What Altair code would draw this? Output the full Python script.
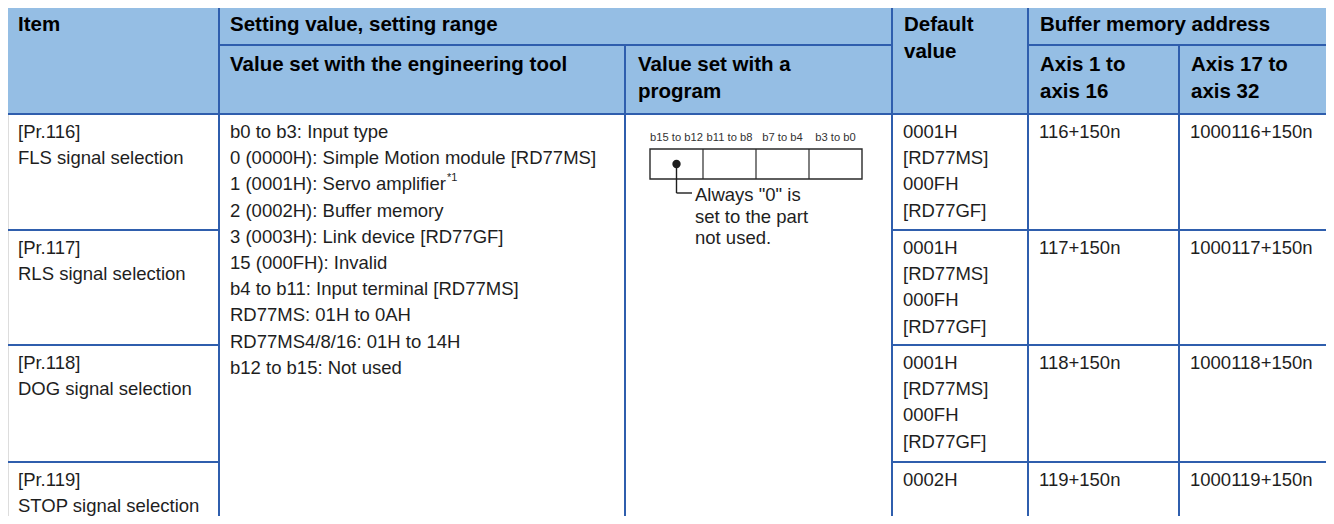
import altair as alt
import pandas as pd

# ---------------- content ----------------
header_item = ["Item"]
header_setting = ["Setting value, setting range"]
header_tool = ["Value set with the engineering tool"]
header_program = ["Value set with a", "program"]
header_default = ["Default", "value"]
header_buffer = ["Buffer memory address"]
header_axis1 = ["Axis 1 to", "axis 16"]
header_axis17 = ["Axis 17 to", "axis 32"]

item_codes = ["[Pr.116]", "[Pr.117]", "[Pr.118]", "[Pr.119]"]
item_names = ["FLS signal selection", "RLS signal selection",
              "DOG signal selection", "STOP signal selection"]

tool_lines = [
    "b0 to b3: Input type",
    "0 (0000H): Simple Motion module [RD77MS]",
    "1 (0001H): Servo amplifier",
    "2 (0002H): Buffer memory",
    "3 (0003H): Link device [RD77GF]",
    "15 (000FH): Invalid",
    "b4 to b11: Input terminal [RD77MS]",
    "RD77MS: 01H to 0AH",
    "RD77MS4/8/16: 01H to 14H",
    "b12 to b15: Not used",
]
footnote_mark = "*1"

default_values = [
    ["0001H", "[RD77MS]", "000FH", "[RD77GF]"],
    ["0001H", "[RD77MS]", "000FH", "[RD77GF]"],
    ["0001H", "[RD77MS]", "000FH", "[RD77GF]"],
    ["0002H"],
]
addr_axis1_16 = ["116+150n", "117+150n", "118+150n", "119+150n"]
addr_axis17_32 = ["1000116+150n", "1000117+150n", "1000118+150n", "1000119+150n"]

bit_labels = ["b15 to b12", "b11 to b8", "b7 to b4", "b3 to b0"]
note_lines = ['Always "0" is', "set to the part", "not used."]

# ---------------- layout ----------------
FONT = "Liberation Sans"
BLUE = "#2F5EAD"
HEAD_FILL = "#95BEE4"
TEXT = "#1E1E1E"

COL = [6, 219, 625, 892, 1028, 1179, 1345]
Y_TOP, Y_SUB, Y_HEAD = 7, 45, 114
ROWS = [114, 230, 345, 462, 540]
PAD_X = 12
LINE_H = 26.2
HEAD_LH = 27
FIRST = 18

# diagram layout
BOX_X0, BOX_X1, BOX_Y0, BOX_Y1 = 650, 862, 149, 179
SUP_X = 447

# ---------------- build tables ----------------
head_rows = []
def add_head(lines, x, y0):
    for i, t in enumerate(lines):
        head_rows.append({"x": x, "y": y0 + i * HEAD_LH, "text": t})

add_head(header_item, COL[0] + PAD_X, Y_TOP + FIRST)
add_head(header_setting, COL[1] + PAD_X - 1, Y_TOP + FIRST)
add_head(header_tool, COL[1] + PAD_X - 1, Y_SUB + 20)
add_head(header_program, COL[2] + PAD_X + 1, Y_SUB + 20)
add_head(header_default, COL[3] + PAD_X, Y_TOP + FIRST)
add_head(header_buffer, COL[4] + PAD_X, Y_TOP + FIRST)
add_head(header_axis1, COL[4] + PAD_X, Y_SUB + 20)
add_head(header_axis17, COL[5] + PAD_X, Y_SUB + 20)
head_df = pd.DataFrame(head_rows)

body_rows = []
for r in range(4):
    top = ROWS[r] + FIRST
    body_rows.append({"x": COL[0] + PAD_X, "y": top, "text": item_codes[r]})
    body_rows.append({"x": COL[0] + PAD_X, "y": top + LINE_H, "text": item_names[r]})
    for i, t in enumerate(default_values[r]):
        body_rows.append({"x": COL[3] + PAD_X - 1, "y": top + i * LINE_H, "text": t})
    body_rows.append({"x": COL[4] + PAD_X - 1, "y": top, "text": addr_axis1_16[r]})
    body_rows.append({"x": COL[5] + PAD_X - 1, "y": top, "text": addr_axis17_32[r]})
for i, t in enumerate(tool_lines):
    body_rows.append({"x": COL[1] + PAD_X - 1, "y": ROWS[0] + FIRST + i * LINE_H, "text": t})
note_x = 695
for i, t in enumerate(note_lines):
    body_rows.append({"x": note_x, "y": 195 + i * 21.5, "text": t})
body_df = pd.DataFrame(body_rows)

sup_df = pd.DataFrame([{"x": SUP_X, "y": ROWS[0] + FIRST + 2 * LINE_H - 6, "text": footnote_mark}])

cell_w = (BOX_X1 - BOX_X0) / 4
bit_df = pd.DataFrame([{"x": BOX_X0 + cell_w * (i + 0.5), "y": 138, "text": t}
                       for i, t in enumerate(bit_labels)])

# grid lines
lines = []
lines.append((COL[0], COL[-1], Y_TOP, Y_TOP))
lines.append((COL[1], COL[3], Y_SUB, Y_SUB))
lines.append((COL[4], COL[-1], Y_SUB, Y_SUB))
lines.append((COL[0], COL[-1], Y_HEAD, Y_HEAD))
for yr in ROWS[1:-1]:
    lines.append((COL[0], COL[1], yr, yr))
    lines.append((COL[3], COL[-1], yr, yr))
BOTTOM = ROWS[-1]
lines.append((COL[1], COL[1], Y_TOP, BOTTOM))
lines.append((COL[2], COL[2], Y_SUB, BOTTOM))
lines.append((COL[3], COL[3], Y_TOP, BOTTOM))
lines.append((COL[4], COL[4], Y_TOP, BOTTOM))
lines.append((COL[5], COL[5], Y_SUB, BOTTOM))
lines_df = pd.DataFrame(lines, columns=["x", "x2", "y", "y2"])

head_fill_df = pd.DataFrame([{"x": COL[0], "x2": COL[-1], "y": Y_TOP, "y2": Y_HEAD}])

box_df = pd.DataFrame([{"x": BOX_X0, "x2": BOX_X1, "y": BOX_Y0, "y2": BOX_Y1}])
cell_div_df = pd.DataFrame([{"x": BOX_X0 + cell_w * i, "x2": BOX_X0 + cell_w * i,
                             "y": BOX_Y0, "y2": BOX_Y1} for i in (1, 2, 3)])
dot_x = BOX_X0 + cell_w * 0.5
dot_df = pd.DataFrame([{"x": dot_x, "y": 164}])
leader_df = pd.DataFrame([
    {"x": dot_x, "x2": dot_x, "y": 164, "y2": 193},
    {"x": dot_x, "x2": 692, "y": 193, "y2": 193},
])

# ---------------- chart ----------------
W, H = 1318, 508
XS = alt.Scale(domain=[8, 8 + W], nice=False, zero=False)
YS = alt.Scale(domain=[8, 8 + H], nice=False, zero=False, reverse=True)

def X(f="x"):
    return alt.X(f"{f}:Q", scale=XS, axis=None)

def Y(f="y"):
    return alt.Y(f"{f}:Q", scale=YS, axis=None)

fill = alt.Chart(head_fill_df).mark_rect(color=HEAD_FILL).encode(
    x=X(), x2="x2:Q", y=Y(), y2="y2:Q")

grid = alt.Chart(lines_df).mark_rule(color=BLUE, strokeWidth=2).encode(
    x=X(), x2="x2:Q", y=Y(), y2="y2:Q")

heads = alt.Chart(head_df).mark_text(
    align="left", baseline="middle", font=FONT, fontSize=20.5,
    fontWeight="bold", color="#000000").encode(x=X(), y=Y(), text="text:N")

body = alt.Chart(body_df).mark_text(
    align="left", baseline="middle", font=FONT, fontSize=18.5,
    color=TEXT).encode(x=X(), y=Y(), text="text:N")

sup = alt.Chart(sup_df).mark_text(
    align="left", baseline="middle", font=FONT, fontSize=11,
    color=TEXT).encode(x=X(), y=Y(), text="text:N")

bits = alt.Chart(bit_df).mark_text(
    align="center", baseline="middle", font=FONT, fontSize=11.2,
    color="#333333").encode(x=X(), y=Y(), text="text:N")

box = alt.Chart(box_df).mark_rect(
    fill="white", stroke="#2A2A2A", strokeWidth=1.4).encode(
    x=X(), x2="x2:Q", y=Y(), y2="y2:Q")

cell_div = alt.Chart(cell_div_df).mark_rule(color="#2A2A2A", strokeWidth=1.2).encode(
    x=X(), x2="x2:Q", y=Y(), y2="y2:Q")

leader = alt.Chart(leader_df).mark_rule(color="#1E1E1E", strokeWidth=1.4).encode(
    x=X(), x2="x2:Q", y=Y(), y2="y2:Q")

dot = alt.Chart(dot_df).mark_point(
    filled=True, size=70, color="#1E1E1E", opacity=1, shape="circle").encode(x=X(), y=Y())

chart = alt.layer(fill, grid, heads, body, sup, bits, box, cell_div, leader, dot).properties(
    width=W, height=H, padding=0, autosize=alt.AutoSizeParams(type="none")
).configure_view(stroke=None).configure(background="white")

chart.save("out.html", embed_options={"renderer": "svg", "actions": False})
